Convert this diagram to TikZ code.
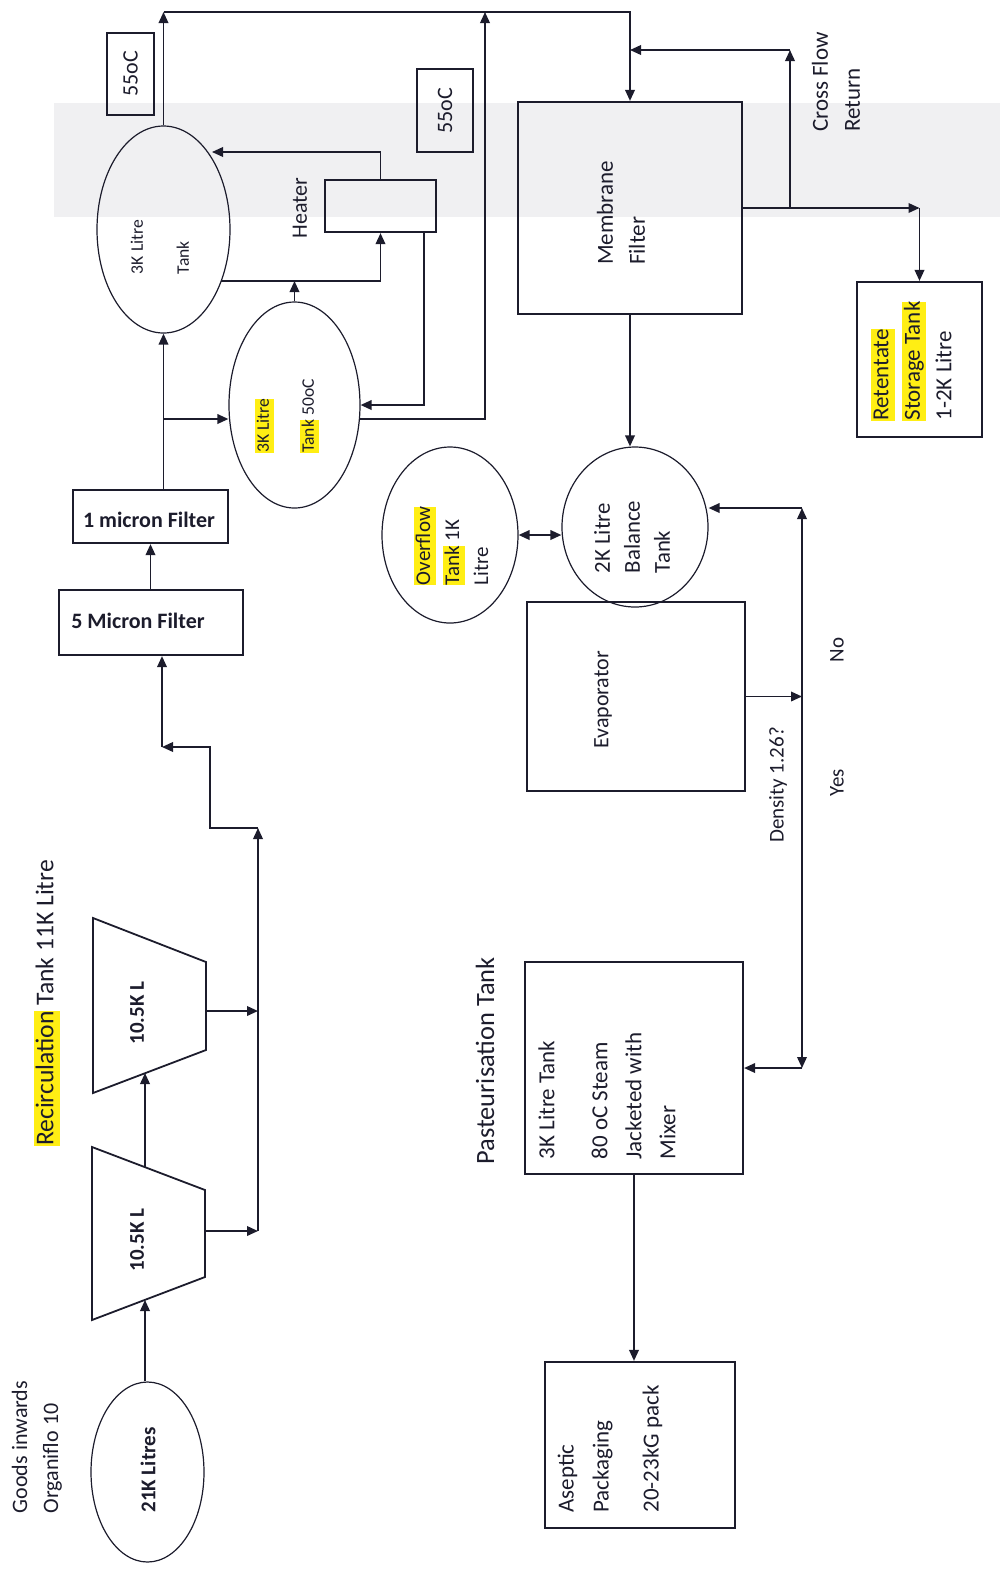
\documentclass[tikz,border=0pt]{standalone}
\usepackage{fontspec}
\setmainfont{Carlito}
\usepackage{tikz}
\usetikzlibrary{arrows.meta, shapes.geometric}

\definecolor{ink}{RGB}{28,28,44}
\definecolor{marker}{RGB}{255,238,20}
\definecolor{band}{RGB}{240,240,242}

\newcommand{\marked}[1]{{\setlength{\fboxsep}{0pt}\colorbox{marker}{\rule[-0.28em]{0pt}{1.05em}#1}}}

\tikzset{
  pipe/.style={draw=ink, line width=0.85pt, -{Triangle[length=5.5pt, width=4.8pt]}},
  twoway/.style={pipe, {Triangle[length=5.5pt, width=4.8pt]}-{Triangle[length=5.5pt, width=4.8pt]}},
  unit/.style={draw=ink, line width=1.1pt, inner sep=0pt},
  vessel/.style={draw=ink, ellipse, line width=0.6pt, inner sep=0pt},
  tag/.style={rotate=90, align=left, text=ink, inner sep=0pt, font=\fontsize{11}{15.5}\selectfont},
  plate/.style={text=ink, inner sep=0pt, font=\bfseries\fontsize{11}{13}\selectfont},
}

\begin{document}
\begin{tikzpicture}[x=0.5pt, y=-0.5pt]
\useasboundingbox (0,0) rectangle (1000,1571);
\fill[band] (54,103) rectangle (1000,217);

% intake and the two 10.5K holding tanks
\node[vessel, minimum width=56.5pt, minimum height=90pt] (goods) at (147.5,1472) {};
\draw[ink, line width=0.9pt] (92,1147) -- (205,1190) -- (205,1277) -- (92,1320) -- cycle;
\draw[ink, line width=0.9pt] (93,918) -- (206,962) -- (206,1050) -- (93,1093) -- cycle;
\coordinate (holdA-in) at (145,1300);
\coordinate (holdA-out) at (145,1167);
\coordinate (holdB-in) at (145,1073);
\coordinate (holdA-side) at (205,1231);
\coordinate (holdB-side) at (206,1011);
\coordinate (merge) at (258,828);
\coordinate (riser) at (162,747);

% filters
\node[unit, minimum width=92pt, minimum height=32.5pt] (filter5) at (151,622.5) {};
\node[unit, minimum width=77.5pt, minimum height=26.5pt] (filter1) at (150.5,516.5) {};

% warm tanks and heater loop
\node[vessel, minimum width=66.5pt, minimum height=103.5pt] (tankA) at (163.5,229.5) {};
\node[vessel, minimum width=65.5pt, minimum height=103pt] (tankB) at (294.5,405) {};
\node[unit, minimum width=55.5pt, minimum height=26pt] (heater) at (380.5,206) {};
\node[unit, minimum width=23.5pt, minimum height=41pt] (hotA) at (130.5,74) {};
\node[unit, minimum width=28pt, minimum height=41.5pt] (hotB) at (445,110.5) {};
\coordinate (split) at (163.5,419);
\coordinate (tankA-ret) at (221,281);
\coordinate (tankA-top) at (212,152);
\coordinate (heater-drain) at (424,232);
\coordinate (tankB-out) at (360,419);
\coordinate (feedTop) at (485,12);
\coordinate (header) at (630,12);

% membrane, retentate, balance
\node[unit, minimum width=112pt, minimum height=106pt] (membrane) at (630,208) {};
\node[unit, minimum width=62.5pt, minimum height=77.5pt] (retentate) at (919.5,359.5) {};
\node[vessel, minimum width=68pt, minimum height=88pt] (overflow) at (450,535) {};
\node[vessel, minimum width=73pt, minimum height=80pt] (balance) at (635,527) {};
\coordinate (bypass) at (790,208);
\coordinate (crossTop) at (790,50);

% evaporator, density check, pasteurising, packing
\node[unit, minimum width=109pt, minimum height=94.5pt] (evaporator) at (636,696.5) {};
\node[unit, minimum width=109pt, minimum height=106pt] (pasteur) at (634,1068) {};
\node[unit, minimum width=95pt, minimum height=83pt] (aseptic) at (640,1445) {};
\coordinate (check) at (802,696.5);
\coordinate (recycle) at (802,508);

% pipework
\draw[pipe] (goods.north -| holdA-in) -- (holdA-in);
\draw[pipe] (holdA-out) -- (holdB-in);
\draw[pipe] (holdA-side) -- (holdA-side -| merge);
\draw[pipe] (holdB-side) -- (holdB-side -| merge);
\draw[pipe] (holdA-side -| merge) -- (merge);
\draw[pipe] (merge) -- ++(-48,0) |- (riser);
\draw[pipe] (riser) -- (riser |- filter5.south);
\draw[pipe] (filter5.north -| filter1) -- (filter1.south);
\draw[pipe] (filter1.north -| tankA) -- (tankA.south);
\draw[pipe] (split) -- (split -| tankB.west);
\draw[pipe] (tankA-ret) -| (heater.south);
\draw[pipe] (tankB.north) -- (tankB.north |- tankA-ret);
\draw[pipe] (heater.north) |- (tankA-top);
\draw[pipe] (heater-drain) |- (tankB.east);
\draw[pipe] (tankA.north) -- (tankA.north |- header);
\draw[pipe] (tankB-out) -| (feedTop);
\draw[pipe] (tankA.north |- header) -- (header) -- (membrane.north);
\draw[pipe] (membrane.east) -- (membrane.east -| retentate.north);
\draw[pipe] (membrane.east -| retentate.north) -- (retentate.north);
\draw[pipe] (bypass) -- (crossTop);
\draw[pipe] (crossTop) -- (crossTop -| membrane.north);
\draw[pipe] (membrane.south) -- (membrane.south |- balance.north);
\draw[twoway] (overflow.east) -- (overflow.east -| balance.west);
\draw[pipe] (evaporator.east) -- (check);
\draw[pipe] (check) -- (recycle);
\draw[pipe] (recycle) -- (recycle -| balance.east);
\draw[pipe] (check) -- (check |- pasteur.east);
\draw[pipe] (check |- pasteur.east) -- (pasteur.east);
\draw[pipe] (pasteur.south) -- (pasteur.south |- aseptic.north);

% labels
\node[tag] (goodsNote) at (37,1447)%
{Goods inwards\\Organiflo 10};
\node[tag, font=\bfseries\fontsize{10.5}{12}\selectfont] (goodsText) at (148,1470)%
{21K Litres};
\node[tag, font=\bfseries\fontsize{10.5}{12}\selectfont] (holdAText) at (137,1240)%
{10.5K L};
\node[tag, font=\bfseries\fontsize{10.5}{12}\selectfont] (holdBText) at (137,1013)%
{10.5K L};
\node[tag, font=\fontsize{12.8}{15}\selectfont] (recircNote) at (47,1003)%
{\marked{Recirculation} Tank 11K Litre};
\node[plate] (filter5Text) at (138,621)%
{5 Micron Filter};
\node[plate] (filter1Text) at (149,520)%
{1 micron Filter};
\node[tag, font=\fontsize{8.8}{11}\selectfont] (tankAText) at (160,247)%
{3K Litre\\[12pt]Tank};
\node[tag, font=\fontsize{8.8}{11}\selectfont] (tankBText) at (287,416)%
{\marked{3K Litre}\\[11.5pt]\marked{Tank} 50oC};
\node[tag] (heaterText) at (300,208)%
{Heater};
\node[tag] (hotAText) at (130.5,74)%
{55oC};
\node[tag] (hotBText) at (445,110.5)%
{55oC};
\node[tag, font=\fontsize{11.5}{16}\selectfont] (membraneText) at (621,213)%
{Membrane\\Filter};
\node[tag, font=\fontsize{11.5}{16}\selectfont] (crossText) at (836,82)%
{Cross Flow\\Return};
\node[tag, font=\fontsize{11.5}{15.75}\selectfont] (retentateText) at (911,361)%
{\marked{Retentate}\\\marked{Storage Tank}\\1-2K Litre};
\node[tag, font=\fontsize{10.5}{14.5}\selectfont] (overflowText) at (451,546)%
{\marked{Overflow}\\\marked{Tank} 1K\\Litre};
\node[tag, font=\fontsize{11.4}{15}\selectfont] (balanceText) at (632,537)%
{2K Litre\\Balance\\Tank};
\node[tag] (evaporatorText) at (603,700)%
{Evaporator};
\node[tag, font=\fontsize{10.5}{13}\selectfont] (densityText) at (778,785)%
{Density 1.26?};
\node[tag, font=\fontsize{10.5}{13}\selectfont] (noText) at (837,650)%
{No};
\node[tag, font=\fontsize{10.5}{13}\selectfont] (yesText) at (837,783)%
{Yes};
\node[tag, font=\fontsize{13.2}{15}\selectfont] (pasteurNote) at (485,1061)%
{Pasteurisation Tank};
\node[tag, font=\fontsize{11.5}{17}\selectfont] (pasteurText) at (607,1096)%
{3K Litre Tank\\[9.5pt]80 oC Steam\\Jacketed with\\Mixer};
\node[tag, font=\fontsize{11.5}{17.5}\selectfont] (asepticText) at (610,1449)%
{Aseptic\\Packaging\\[7.5pt]20-23kG pack};
\end{tikzpicture}
\end{document}
